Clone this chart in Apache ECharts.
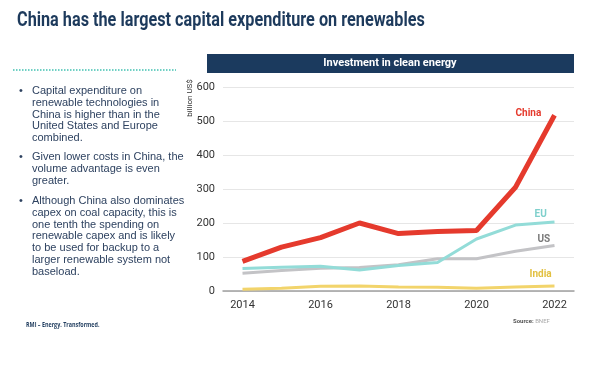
<!DOCTYPE html>
<html><head><meta charset="utf-8">
<script src="https://cdn.jsdelivr.net/npm/echarts@6/dist/echarts.min.js"></script>
<style>html,body{margin:0;padding:0;background:#fff}#c{width:600px;height:366px}</style>
</head><body><div id="c"></div>
<script>
const years = ['2014','2015','2016','2017','2018','2019','2020','2021','2022'];
const china = [87, 129, 157, 200, 169, 175, 178, 305, 517];
const eu    = [66, 70, 73, 62, 75, 84, 153, 194, 203];
const us    = [52, 60, 67, 69, 77, 95, 95, 117, 134];
const india = [5, 8, 14, 15, 12, 11, 8, 12, 15];
const yTicks = [0, 100, 200, 300, 400, 500, 600];

const navy = '#1d3a5c';
const bulletColor = '#2e4260';
const bullets = [
  ['Capital expenditure on', 'renewable technologies in', 'China is higher than in the', 'United States and Europe', 'combined.'],
  ['Given lower costs in China, the', 'volume advantage is even', 'greater.'],
  ['Although China also dominates', 'capex on coal capacity, this is', 'one tenth the spending on', 'renewable capex and is likely', 'to be used for backup to a', 'larger renewable system not', 'baseload.']
];
const bulletTops = [85, 151, 195];

const graphics = [
  {type:'text', x:17, y:21, scaleX:0.812, style:{text:'China has the largest capital expenditure on renewables', font:'bold 20px Roboto', fill:navy, verticalAlign:'middle'}},
  {type:'rect', shape:{x:207, y:54, width:367, height:19}, style:{fill:'#1b3a5e'}},
  {type:'text', x:390, y:63.5, style:{text:'Investment in clean energy', font:'bold 11px Roboto', fill:'#fff', align:'center', verticalAlign:'middle'}},
  {type:'line', shape:{x1:13, y1:70, x2:176, y2:70}, style:{stroke:'#6fd0c4', lineWidth:2, lineDash:[1.5,1.5]}},
  {type:'text', x:190, y:98, rotation:Math.PI/2, style:{text:'billion US$', font:'8px Roboto', fill:'#333', align:'center', verticalAlign:'middle'}},
  {type:'text', x:26, y:325, scaleX:0.77, style:{text:'RMI – Energy. Transformed.', font:'bold 7px "Open Sans"', fill:navy, verticalAlign:'middle'}},
  {type:'text', left:513, top:318, style:{text:'{b|Source:} BNEF', font:'6px Roboto', fill:'#aaa', rich:{b:{font:'bold 6px Roboto', fill:'#555'}}}}
];
bullets.forEach((lines, i) => {
  graphics.push({type:'text', left:19, top:bulletTops[i], style:{text:'•', font:'11px "Liberation Sans"', fill:bulletColor, lineHeight:12}});
  graphics.push({type:'text', left:32, top:bulletTops[i], style:{text:lines.join('\n'), font:'11px "Liberation Sans"', fill:bulletColor, lineHeight:11.8}});
});

const endLabel = (txt, color, dx, dy) => ({
  show:true, formatter: txt, offset:[dx, dy], color:color, fontWeight:'bold', fontSize:10, fontFamily:'Roboto', distance:0
});

const chart = echarts.init(document.getElementById('c'), null, {renderer:'canvas'});
chart.setOption({
  animation:false,
  grid:{left:223, right:26, top:87, bottom:75, containLabel:false},
  xAxis:{type:'category', data:years, boundaryGap:true,
    axisLine:{lineStyle:{color:'#a0a0a0', width:1.5}}, axisTick:{show:false},
    axisLabel:{interval:1, color:'#333', fontSize:11, fontFamily:'Roboto', margin:9}},
  yAxis:{type:'value', min:0, max:600, interval:100,
    axisLine:{show:false}, axisTick:{show:false},
    splitLine:{lineStyle:{color:'#e6e6e6', width:1}},
    axisLabel:{color:'#333', fontSize:11, fontFamily:'Roboto', margin:8, formatter: v => yTicks.includes(v) ? String(v) : ''}},
  series:[
    {name:'India', type:'line', data:india, symbol:'none', lineStyle:{color:'#f2d46b', width:3}, z:2,
      endLabel:endLabel('India', '#e2c040', -25, -11)},
    {name:'US', type:'line', data:us, symbol:'none', lineStyle:{color:'#c3c3c6', width:3}, z:3,
      endLabel:endLabel('US', '#7a7a7a', -17, -6)},
    {name:'EU', type:'line', data:eu, symbol:'none', lineStyle:{color:'#93dcd8', width:3}, z:4,
      endLabel:endLabel('EU', '#7fd0cc', -20, -7)},
    {name:'China', type:'line', data:china, symbol:'none', lineStyle:{color:'#e53a2d', width:5}, z:5,
      endLabel:endLabel('China', '#e53a2d', -39, -2)}
  ],
  graphic:graphics
});
</script></body></html>
